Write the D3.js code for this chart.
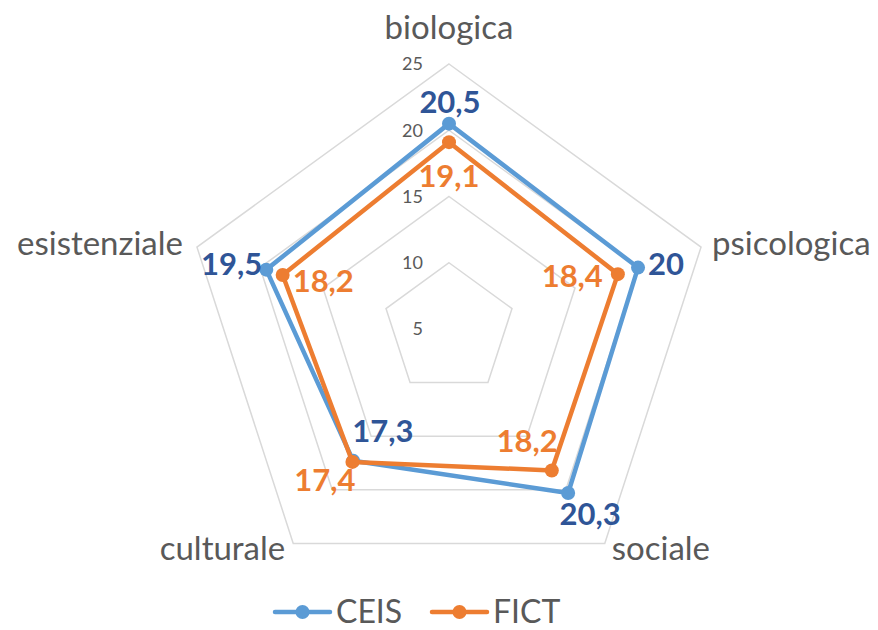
<!DOCTYPE html>
<html>
<head>
<meta charset="utf-8">
<script src="https://cdn.jsdelivr.net/npm/d3@7"></script>
<style>
  html, body { margin: 0; padding: 0; background: #fff; }
  svg text { font-family: Lato, "Open Sans", sans-serif; }
</style>
</head>
<body>
<svg id="chart" width="878" height="630"></svg>
<script>
// ---- data ----
const categories = ["biologica", "psicologica", "sociale", "culturale", "esistenziale"];
const seriesNames = ["CEIS", "FICT"];
const ceisValues = [20.5, 20, 20.3, 17.3, 19.5];
const fictValues = [19.1, 18.4, 18.2, 17.4, 18.2];
const tickValues = [5, 10, 15, 20, 25];
const axisMin = 5, axisMax = 25;

// ---- layout / style ----
const W = 878, H = 630;
const cx = 449, cy = 329, R = 265;
const colors = { CEIS: "#5B9BD5", FICT: "#ED7D31" };
const labelColors = { CEIS: "#2F5597", FICT: "#ED7D31" };
// label placement relative to each point: [dx, dy(baseline), anchor]
const labelPlacement = {
  CEIS: [[1, -11, "middle"], [10, 7, "start"], [22, 32, "middle"], [-1, -19, "start"], [-4, 5, "end"]],
  FICT: [[0, 45, "middle"], [-15, 13, "end"], [6, -18, "end"], [3, 29, "end"], [10, 17, "start"]]
};

const svg = d3.select("#chart");
const r = d3.scaleLinear().domain([axisMin, axisMax]).range([0, R]);
const angle = d3.scalePoint().domain(categories).range([0, 2 * Math.PI * (categories.length - 1) / categories.length]);
const pt = (cat, v) => {
  const a = angle(cat);
  return [cx + r(v) * Math.sin(a), cy - r(v) * Math.cos(a)];
};

// grid rings
const ring = d3.line().curve(d3.curveLinearClosed);
tickValues.filter(t => t > axisMin).forEach(t => {
  svg.append("path")
    .attr("d", ring(categories.map(c => pt(c, t))))
    .attr("fill", "none")
    .attr("stroke", "#D9D9D9")
    .attr("stroke-width", 1.5);
});

// tick labels
svg.selectAll(".tick").data(tickValues).enter().append("text")
  .attr("x", cx - 26)
  .attr("y", d => cy - r(d))
  .attr("dy", "0.36em")
  .attr("text-anchor", "end")
  .attr("font-size", 18)
  .attr("fill", "#595959")
  .text(d => d);

// category labels
categories.forEach((c, i) => {
  const [vx, vy] = pt(c, axisMax);
  const a = angle(c);
  const s = Math.sin(a), co = Math.cos(a);
  let x = vx, y = vy, anchor = "middle";
  if (co > 0.9) { y = vy - 25; }
  else if (co > 0) { anchor = s > 0 ? "start" : "end"; x = vx + (s > 0 ? 11 : -14); y = vy + 8; }
  else { anchor = s > 0 ? "start" : "end"; x = vx + (s > 0 ? 7 : -8); y = vy + 17; }
  svg.append("text")
    .attr("x", x).attr("y", y)
    .attr("text-anchor", anchor)
    .attr("font-size", 33)
    .attr("fill", "#595959")
    .text(c);
});

// series
const series = [
  { name: "CEIS", values: ceisValues },
  { name: "FICT", values: fictValues }
];
series.forEach(s => {
  const pts = categories.map((c, i) => pt(c, s.values[i]));
  svg.append("path")
    .attr("d", ring(pts))
    .attr("fill", "none")
    .attr("stroke", colors[s.name])
    .attr("stroke-width", 4.5)
    .attr("stroke-linejoin", "round");
  svg.selectAll(".m" + s.name).data(pts).enter().append("circle")
    .attr("cx", d => d[0]).attr("cy", d => d[1])
    .attr("r", 7)
    .attr("fill", colors[s.name]);
});
series.forEach(s => {
  const pts = categories.map((c, i) => pt(c, s.values[i]));
  pts.forEach((p, i) => {
    const [dx, dy, anchor] = labelPlacement[s.name][i];
    svg.append("text")
      .attr("x", p[0] + dx).attr("y", p[1] + dy)
      .attr("text-anchor", anchor)
      .attr("font-size", 31)
      .attr("font-weight", 700)
      .attr("fill", labelColors[s.name])
      .text(String(s.values[i]).replace(".", ","));
  });
});

// legend
const legendX = [275, 432];
seriesNames.forEach((n, i) => {
  const g = svg.append("g").attr("transform", `translate(${legendX[i]},612)`);
  g.append("line").attr("x1", 0).attr("x2", 55).attr("y1", 0).attr("y2", 0)
    .attr("stroke", colors[n]).attr("stroke-width", 4.5).attr("stroke-linecap", "round");
  g.append("circle").attr("cx", 27.5).attr("cy", 0).attr("r", 7).attr("fill", colors[n]);
  g.append("text").attr("x", 61).attr("y", 11)
    .attr("font-size", 32).attr("fill", "#595959").text(n);
});
</script>
</body>
</html>
